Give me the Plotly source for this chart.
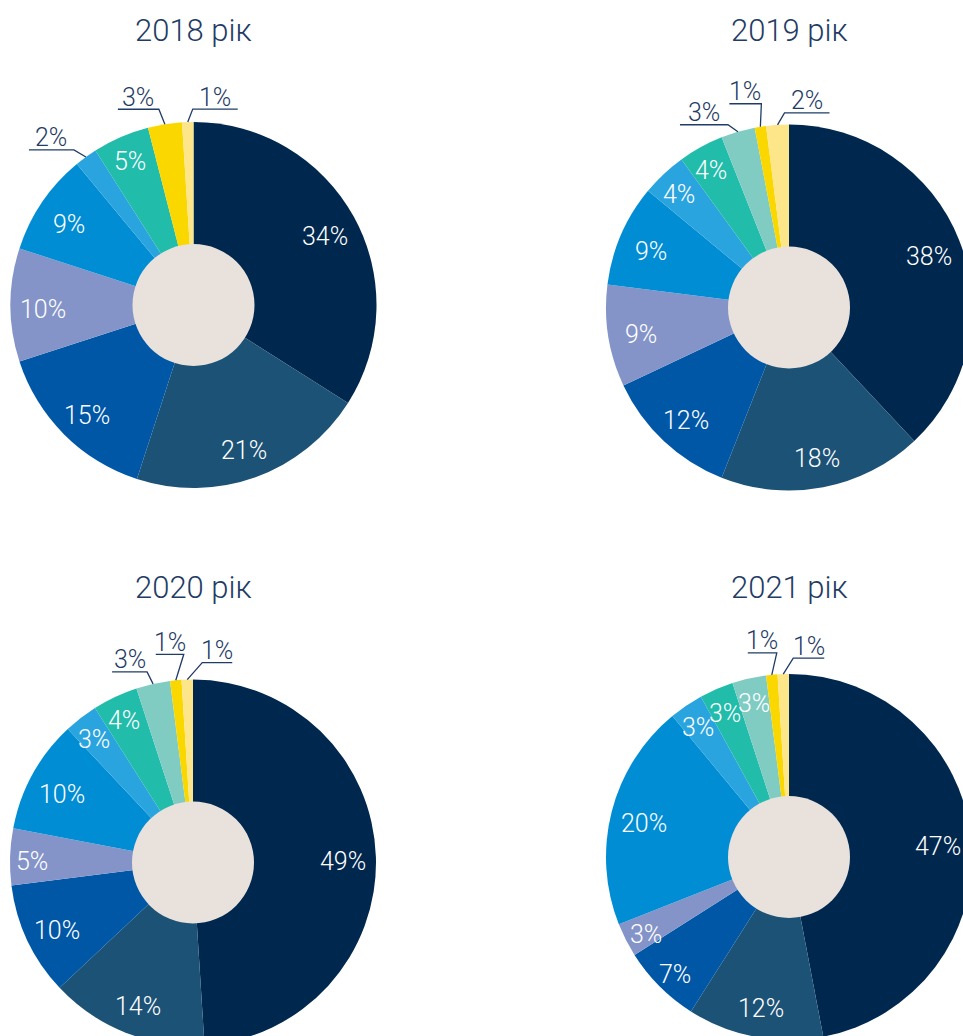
import math
import plotly.graph_objects as go

# ---------------- data ----------------
years = ["2018", "2019", "2020", "2021"]
categories = ["c1", "c2", "c3", "c4", "c5", "c6", "c7", "c8", "c9", "c10"]
cats_2018 = ["c1", "c2", "c3", "c4", "c5", "c6", "c7", "c9", "c10"]
cats_2019 = categories
cats_2020 = categories
cats_2021 = categories
values_2018 = [34, 21, 15, 10, 9, 2, 5, 3, 1]
values_2019 = [38, 18, 12, 9, 9, 4, 4, 3, 1, 2]
values_2020 = [49, 14, 10, 5, 10, 3, 4, 3, 1, 1]
values_2021 = [47, 12, 7, 3, 20, 3, 3, 3, 1, 1]
title_suffix = " рік"

# ---------------- style ----------------
colors = {
    "c1": "#00284f", "c2": "#1c5276", "c3": "#0057a6", "c4": "#8494c8",
    "c5": "#008dd4", "c6": "#2aa4de", "c7": "#21bcaa", "c8": "#80ccc3",
    "c9": "#fbd700", "c10": "#fde58a",
}
W, H = 980, 1050
R = 183
HOLE_R = 61
HOLE_COLOR = "#e8e1dc"
TEXT_DARK = "#1f3c66"
FONT = "Roboto"

layout_pos = {  # pie centre in pixels, title y
    "2018": dict(cx=193.5, cy=305.0, ty=30),
    "2019": dict(cx=789.0, cy=307.5, ty=30),
    "2020": dict(cx=193.0, cy=862.5, ty=587),
    "2021": dict(cx=789.0, cy=857.0, ty=587),
}
# outside labels: slice index -> (elbow dx, elbow dy, side, underline length)
outside = {
    "2018": {5: (-12, -7, -1, 45), 7: (-6, -15, -1, 41), 8: (5, -13, 1, 45)},
    "2019": {7: (-10, -7, -1, 48), 8: (1, -23, -1, 32), 9: (7, -12, 1, 45)},
    "2020": {7: (-6, -12, -1, 35), 8: (8, -26, -1, 28), 9: (15, -17, 1, 30)},
    "2021": {8: (5, -22, -1, 29), 9: (10, -16, 1, 31)},
}

series = {
    "2018": (cats_2018, values_2018),
    "2019": (cats_2019, values_2019),
    "2020": (cats_2020, values_2020),
    "2021": (cats_2021, values_2021),
}


def px(x):
    return x / W


def py(y):
    return 1 - y / H


fig = go.Figure()
shapes = []
annotations = []

for yr in years:
    cats, vals = series[yr]
    p = layout_pos[yr]
    cx, cy = p["cx"], p["cy"]
    fig.add_trace(go.Pie(
        labels=cats, values=vals, sort=False, direction="clockwise", rotation=0,
        marker=dict(colors=[colors[c] for c in cats], line=dict(width=0)),
        textinfo="none", hoverinfo="label+percent", showlegend=False,
        domain=dict(x=[px(cx - R), px(cx + R)], y=[py(cy + R), py(cy - R)]),
    ))
    # centre disc
    shapes.append(dict(type="circle", xref="paper", yref="paper", layer="above",
                       x0=px(cx - HOLE_R), x1=px(cx + HOLE_R),
                       y0=py(cy + HOLE_R), y1=py(cy - HOLE_R),
                       fillcolor=HOLE_COLOR, line=dict(width=0)))
    # title
    annotations.append(dict(xref="paper", yref="paper", x=px(cx), y=py(p["ty"]),
                            text=yr + title_suffix, showarrow=False,
                            xanchor="center", yanchor="middle",
                            font=dict(family=FONT, size=31, color=TEXT_DARK, weight=300)))
    total = sum(vals)
    cum = 0
    for i, v in enumerate(vals):
        mid = (cum + v / 2) / total
        cum += v
        th = 2 * math.pi * mid
        label = f"{v}%"
        if i in outside[yr]:
            dx, dy, side, ln = outside[yr][i]
            ex, ey = cx + R * math.sin(th), cy - R * math.cos(th)
            kx, ky = ex + dx, ey + dy
            endx = kx + side * ln
            shapes.append(dict(type="path", xref="paper", yref="paper", layer="above",
                               path=f"M {px(ex)} {py(ey)} L {px(kx)} {py(ky)} L {px(endx)} {py(ky)}",
                               line=dict(color=TEXT_DARK, width=1.3)))
            annotations.append(dict(xref="paper", yref="paper", x=px((kx + endx) / 2),
                                    y=py(ky - 12), text=label, showarrow=False,
                                    xanchor="center", yanchor="middle",
                                    font=dict(family=FONT, size=25, color=TEXT_DARK, weight=300)))
        else:
            rr = R * (0.82 if v >= 9 else 0.88)
            tx, ty = cx + rr * math.sin(th), cy - rr * math.cos(th)
            annotations.append(dict(xref="paper", yref="paper", x=px(tx), y=py(ty),
                                    text=label, showarrow=False, yshift=-4,
                                    xanchor="center", yanchor="middle",
                                    font=dict(family=FONT, size=25, color="white", weight=300)))

fig.update_layout(
    width=W, height=H, autosize=False,
    margin=dict(l=0, r=0, t=0, b=0),
    paper_bgcolor="white", plot_bgcolor="white",
    shapes=shapes, annotations=annotations,
)

fig.write_html(
    "out.html",
    config={"displayModeBar": False},
    post_script="document.body.style.margin='0';document.body.style.overflow='hidden';",
)
